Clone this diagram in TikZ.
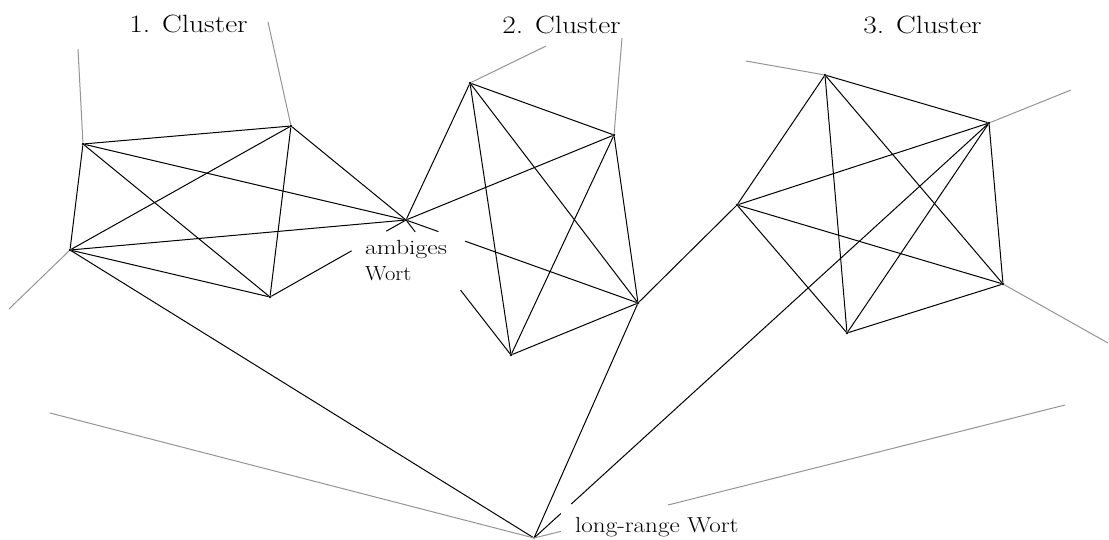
\documentclass[tikz,border=0pt]{standalone}
\usepackage{graphicx}
\usetikzlibrary{calc}
\begin{document}
\begin{tikzpicture}[x=1pt,y=-1pt,
  v/.style={circle,fill=black,inner sep=0pt,minimum size=2.6pt},
  edge/.style={draw=black,line width=1pt},
  grayline/.style={draw=black!42,line width=1pt},
  lbl/.style={inner sep=0pt,anchor=base,font=\fontsize{25}{30}\selectfont},
  small/.style={inner sep=0pt,anchor=base west,font=\fontsize{20.5}{24}\selectfont},
  lr/.style={inner sep=0pt,anchor=base west,font=\fontsize{21.6}{26}\selectfont},
]
\useasboundingbox (0,0) rectangle (1109,539);
% cluster 1
\node[v] (A1) at (83,144) {};
\node[v] (A2) at (291,126) {};
\node[v] (A3) at (70,250) {};
\node[v] (A4) at (270,297) {};
\node[v] (W) at (406,220) {};
% cluster 2
\node[v] (B1) at (470,83) {};
\node[v] (B2) at (614,135) {};
\node[v] (B4) at (638,303) {};
\node[v] (B5) at (511,355) {};
% cluster 3
\node[v] (C1) at (737,205) {};
\node[v] (C3) at (825,75) {};
\node[v] (C2) at (989,123) {};
\node[v] (C4) at (1003,284) {};
\node[v] (C5) at (847,333) {};
% long-range word
\coordinate (L) at (534,538);
% gray ends
\coordinate (g1) at (78,49);
\coordinate (g2) at (268,22);
\coordinate (g3) at (9,309);
\coordinate (g4) at (546,46);
\coordinate (g5) at (622,38);
\coordinate (g6) at (746,61);
\coordinate (g7) at (1071,90);
\coordinate (g8) at (1108,343);
\coordinate (g9) at (50,413);
\coordinate (g10a) at (1065,405);
\coordinate (g10b) at (668,505);

% labels
\node[lbl] (t1) at (188.5,32) {\scalebox{1.18}[1]{1. Cluster}};
\node[lbl] (t2) at (561.5,33) {\scalebox{1.18}[1]{2. Cluster}};
\node[lbl] (t3) at (922.5,33) {\scalebox{1.18}[1]{3. Cluster}};
\node[small] (amb) at (365,254) {\scalebox{1.25}[1]{ambiges}};
\node[small] (wort) at (365,280) {\scalebox{1.1}[1]{Wort}};
\node[lr] (lrw) at (575,532) {\scalebox{1.16}[1]{long-range Wort}};

% cluster 1 edges
\draw[edge] (A1) -- (A2);
\draw[edge] (A1) -- (A3);
\draw[edge] (A1) -- (A4);
\draw[edge] (A1) -- (W);
\draw[edge] (A2) -- (A3);
\draw[edge] (A2) -- (A4);
\draw[edge] (A2) -- (W);
\draw[edge] (A3) -- (A4);
\draw[edge] (A3) -- (W);
\draw[edge] (A4) -- ($(W)!0.40!(A4)$);
\draw[edge] (W) -- ($(W)!0.145!(A4)$);
% cluster 2 edges
\draw[edge] (B1) -- (B2);
\draw[edge] (B1) -- (W);
\draw[edge] (B1) -- (B5);
\draw[edge] (B1) -- (B4);
\draw[edge] (B2) -- (W);
\draw[edge] (B2) -- (B5);
\draw[edge] (B2) -- (B4);
\draw[edge] (B4) -- (B5);
\draw[edge] (W) -- ($(W)!0.14!(B4)$);
\draw[edge] ($(W)!0.255!(B4)$) -- (B4);
\draw[edge] (W) -- ($(W)!0.088!(B5)$);
\draw[edge] ($(W)!0.52!(B5)$) -- (B5);
% cluster 3 edges
\draw[edge] (C1) -- (C3);
\draw[edge] (C1) -- (C2);
\draw[edge] (C1) -- (C4);
\draw[edge] (C1) -- (C5);
\draw[edge] (C3) -- (C2);
\draw[edge] (C3) -- (C5);
\draw[edge] (C3) -- (C4);
\draw[edge] (C2) -- (C4);
\draw[edge] (C2) -- (C5);
\draw[edge] (C4) -- (C5);
% long-range connections
\draw[edge] (B4) -- (C1);
\draw[edge] (A3) -- (L);
\draw[edge] (B4) -- (L);
\draw[edge] (C2) -- ($(L)!0.082!(C2)$);
\draw[edge] (L) -- ($(L)!0.059!(C2)$);
% gray lines
\draw[grayline] (A1) -- (g1);
\draw[grayline] (A2) -- (g2);
\draw[grayline] (A3) -- (g3);
\draw[grayline] (B1) -- (g4);
\draw[grayline] (B2) -- (g5);
\draw[grayline] (C3) -- (g6);
\draw[grayline] (C2) -- (g7);
\draw[grayline] (C4) -- (g8);
\draw[grayline] (g9) -- (L);
\draw[grayline] (g10a) -- (g10b);
\draw[grayline] (L) -- ($(L)!0.2!(g10b)$);
\end{tikzpicture}
\end{document}
